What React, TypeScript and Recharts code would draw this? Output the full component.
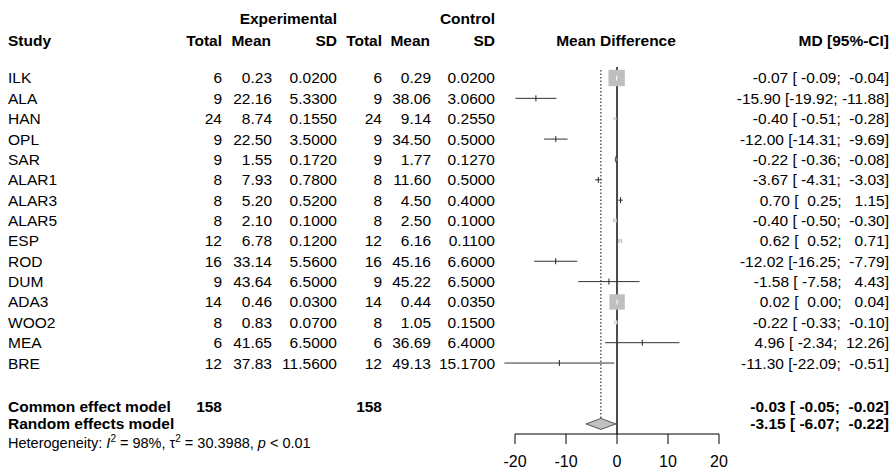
import React from "react";
import { ComposedChart, XAxis, YAxis, Scatter, Area, ReferenceLine } from "recharts";

const studies = ["ILK", "ALA", "HAN", "OPL", "SAR", "ALAR1", "ALAR3", "ALAR5", "ESP", "ROD", "DUM", "ADA3", "WOO2", "MEA", "BRE"];
const expTotal = [6, 9, 24, 9, 9, 8, 8, 8, 12, 16, 9, 14, 8, 6, 12];
const expMean = [0.23, 22.16, 8.74, 22.5, 1.55, 7.93, 5.2, 2.1, 6.78, 33.14, 43.64, 0.46, 0.83, 41.65, 37.83];
const expSD = [0.02, 5.33, 0.155, 3.5, 0.172, 0.78, 0.52, 0.1, 0.12, 5.56, 6.5, 0.03, 0.07, 6.5, 11.56];
const ctrlTotal = [6, 9, 24, 9, 9, 8, 8, 8, 12, 16, 9, 14, 8, 6, 12];
const ctrlMean = [0.29, 38.06, 9.14, 34.5, 1.77, 11.6, 4.5, 2.5, 6.16, 45.16, 45.22, 0.44, 1.05, 36.69, 49.13];
const ctrlSD = [0.02, 3.06, 0.255, 0.5, 0.127, 0.5, 0.4, 0.1, 0.11, 6.6, 6.5, 0.035, 0.15, 6.4, 15.17];
const md = [-0.07, -15.9, -0.4, -12.0, -0.22, -3.67, 0.7, -0.4, 0.62, -12.02, -1.58, 0.02, -0.22, 4.96, -11.3];
const lower = [-0.09, -19.92, -0.51, -14.31, -0.36, -4.31, 0.25, -0.5, 0.52, -16.25, -7.58, 0.0, -0.33, -2.34, -22.09];
const upper = [-0.04, -11.88, -0.28, -9.69, -0.08, -3.03, 1.15, -0.3, 0.71, -7.79, 4.43, 0.04, -0.1, 12.26, -0.51];
// common effect weights (%), estimated
const weights = [47.7, 0.01, 1.7, 0.01, 1.3, 0.06, 0.1, 2.5, 2.9, 0.01, 0.01, 41.9, 1.9, 0.01, 0.01];

const models = ["Common effect model", "Random effects model"];
const modelTotal = [158, null];
const modelMd = [-0.03, -3.15];
const modelLower = [-0.05, -6.07];
const modelUpper = [-0.02, -0.22];
const modelRows = [16.13, 16.99];

const xTicks = [-20, -10, 0, 10, 20];

const FONT = "'Liberation Sans', Arial, sans-serif";
const FS = 15.5;

const f2 = (v: number) => v.toFixed(2);
const ciText = (m: number, lo: number, hi: number) =>
  `${f2(m)} [${f2(lo).padStart(6, " ")}; ${f2(hi).padStart(6, " ")}]`;

const studyRows = studies.map((s, i) => ({
  x: md[i],
  y: i,
  name: s,
  et: String(expTotal[i]),
  em: f2(expMean[i]),
  es: expSD[i].toFixed(4),
  ct: String(ctrlTotal[i]),
  cm: f2(ctrlMean[i]),
  cs: ctrlSD[i].toFixed(4),
  ci: ciText(md[i], lower[i], upper[i]),
  w: weights[i],
  bold: false,
}));

const modelTableRows = models.map((m, i) => ({
  x: modelMd[i],
  y: modelRows[i],
  name: m,
  et: modelTotal[i] == null ? "" : String(modelTotal[i]),
  em: "",
  es: "",
  ct: modelTotal[i] == null ? "" : String(modelTotal[i]),
  cm: "",
  cs: "",
  ci: ciText(modelMd[i], modelLower[i], modelUpper[i]),
  w: 0,
  bold: true,
}));

const tableRows = [...studyRows, ...modelTableRows];

const T = (props: any) => (
  <text
    fontFamily={FONT}
    fontSize={FS}
    fill="#000"
    dominantBaseline="central"
    style={{ whiteSpace: "pre" }}
    {...props}
  />
);

function TableRow(props: any) {
  const { cy, payload } = props;
  const fw = payload.bold ? "bold" : "normal";
  return (
    <g>
      <T x={8} y={cy} fontWeight={fw}>{payload.name}</T>
      <T x={222} y={cy} textAnchor="end" fontWeight={fw}>{payload.et}</T>
      <T x={272} y={cy} textAnchor="end">{payload.em}</T>
      <T x={337} y={cy} textAnchor="end">{payload.es}</T>
      <T x={382} y={cy} textAnchor="end" fontWeight={fw}>{payload.ct}</T>
      <T x={431} y={cy} textAnchor="end">{payload.cm}</T>
      <T x={495} y={cy} textAnchor="end">{payload.cs}</T>
      <T x={889} y={cy} textAnchor="end" fontWeight={fw}>{payload.ci}</T>
    </g>
  );
}

function StudySquare(props: any) {
  const { cx, cy, payload } = props;
  const s = 2.38 * Math.sqrt(payload.w);
  const big = s >= 3;
  return (
    <g>
      {s > 0.8 && <rect x={cx - s / 2} y={cy - s / 2} width={s} height={s} fill="#bfbfbf" />}
      <line
        x1={cx}
        x2={cx}
        y1={cy - (big ? 2.5 : 3)}
        y2={cy + (big ? 2.5 : 3)}
        stroke={big ? "#fff" : "#222"}
        strokeWidth={1}
      />
    </g>
  );
}

// random effects diamond (the common effect one is too narrow to see)
const randomDiamond = [
  { x: modelLower[1], band: [modelRows[1], modelRows[1]] },
  { x: modelMd[1], band: [modelRows[1] - 0.27, modelRows[1] + 0.27] },
  { x: modelUpper[1], band: [modelRows[1], modelRows[1]] },
];

export default function App() {
  return (
    <div style={{ position: "absolute", left: 0, top: 0, width: 893, height: 475, background: "#fff" }}>
      <ComposedChart width={893} height={475} margin={{ top: 60, right: 174, bottom: 11, left: 515 }}>
        <XAxis
          type="number"
          dataKey="x"
          domain={[-20, 20]}
          ticks={xTicks}
          tickSize={10}
          tickMargin={12}
          height={30}
          stroke="#000"
          tick={{ fill: "#000", fontSize: 16, fontFamily: FONT }}
          tickLine={{ stroke: "#000" }}
          axisLine={{ stroke: "#000" }}
        />
        <YAxis type="number" dataKey="y" domain={[-0.884, 17.485]} reversed hide />

        <ReferenceLine
          segment={[{ x: 0, y: -0.54 }, { x: 0, y: 17.485 }]}
          stroke="#000"
          strokeWidth={1.4}
          ifOverflow="visible"
        />
        <ReferenceLine
          segment={[{ x: modelMd[1], y: -0.39 }, { x: modelMd[1], y: modelRows[1] - 0.27 }]}
          stroke="#000"
          strokeDasharray="1.5 2"
          ifOverflow="visible"
        />

        {studies.map((s, i) => (
          <ReferenceLine
            key={s}
            segment={[{ x: lower[i], y: i }, { x: upper[i], y: i }]}
            stroke="#333"
            strokeWidth={1}
            ifOverflow="visible"
          />
        ))}

        <Area
          data={randomDiamond}
          dataKey="band"
          type="linear"
          stroke="#555"
          strokeWidth={1}
          fill="#c0c0c0"
          fillOpacity={1}
          dot={false}
          activeDot={false}
          isAnimationActive={false}
        />

        <Scatter data={studyRows} shape={<StudySquare />} isAnimationActive={false} />
        <Scatter data={tableRows} shape={<TableRow />} isAnimationActive={false} />
      </ComposedChart>

      <svg
        width={893}
        height={475}
        style={{ position: "absolute", left: 0, top: 0, pointerEvents: "none" }}
      >
        <T x={337} y={18} textAnchor="end" fontWeight="bold">Experimental</T>
        <T x={495} y={18} textAnchor="end" fontWeight="bold">Control</T>
        <T x={8} y={40} fontWeight="bold">Study</T>
        <T x={222} y={40} textAnchor="end" fontWeight="bold">Total</T>
        <T x={271} y={40} textAnchor="end" fontWeight="bold">Mean</T>
        <T x={337} y={40} textAnchor="end" fontWeight="bold">SD</T>
        <T x={382} y={40} textAnchor="end" fontWeight="bold">Total</T>
        <T x={430} y={40} textAnchor="end" fontWeight="bold">Mean</T>
        <T x={495} y={40} textAnchor="end" fontWeight="bold">SD</T>
        <T x={616} y={40} textAnchor="middle" fontWeight="bold">Mean Difference</T>
        <T x={889} y={40} textAnchor="end" fontWeight="bold">MD [95%-CI]</T>
        <text x={8} y={447.5} fontFamily={FONT} fontSize={14.5} fill="#000">
          Heterogeneity: <tspan fontStyle="italic">I</tspan>
          <tspan dy={-6} fontSize={10}>2</tspan>
          <tspan dy={6}> = 98%, τ</tspan>
          <tspan dy={-6} fontSize={10}>2</tspan>
          <tspan dy={6}> = 30.3988, </tspan>
          <tspan fontStyle="italic">p</tspan>
          <tspan> &lt; 0.01</tspan>
        </text>
      </svg>
    </div>
  );
}
